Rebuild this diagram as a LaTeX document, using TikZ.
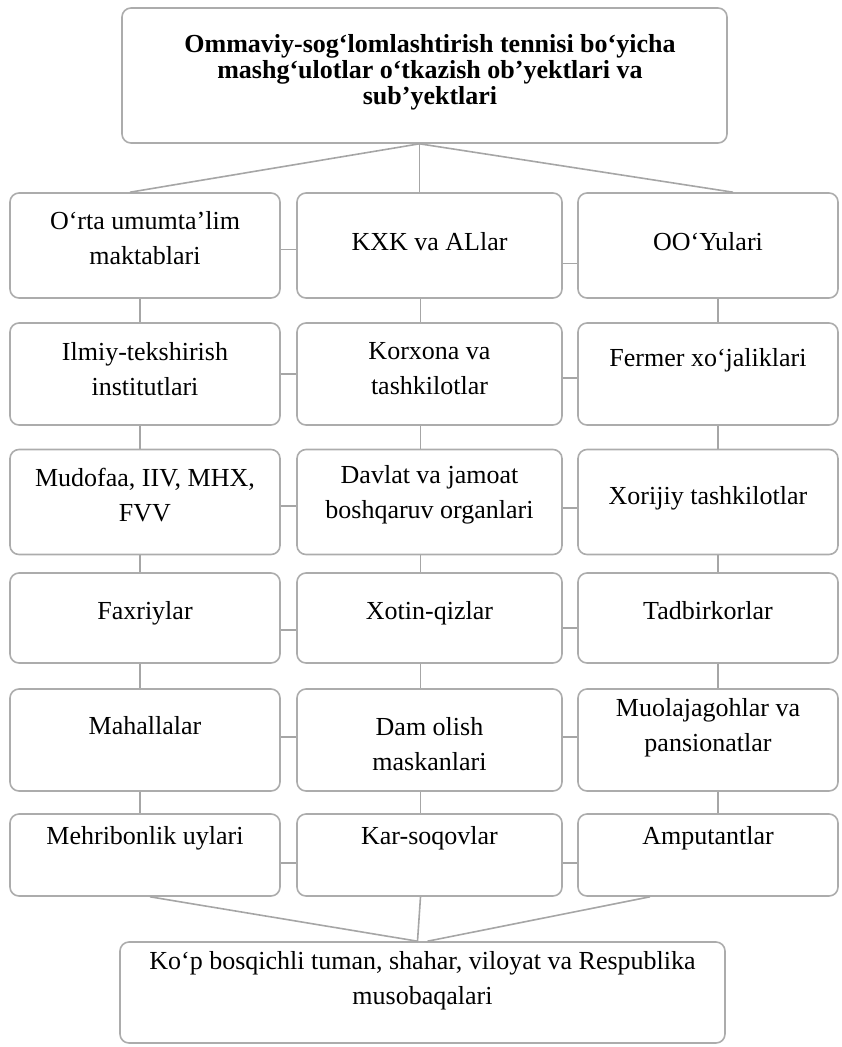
\documentclass[tikz,border=0pt]{standalone}
\usepackage{fontspec}
\setmainfont{Liberation Serif}
\usetikzlibrary{positioning}

\begin{document}
\begin{tikzpicture}[x=1pt,y=-1pt]
\tikzset{
  orgbox/.style={draw=gray!65,line width=1.6pt,rounded corners=9pt,inner sep=0pt},
  boxtext/.style={align=center,inner sep=0pt,font=\fontsize{26}{35}\selectfont},
  headtext/.style={align=center,inner sep=0pt,font=\fontsize{26}{26}\selectfont\bfseries},
  link/.style={draw=gray!70,line width=1.6pt},
  colL/.style={orgbox,minimum width=270pt},
  colM/.style={orgbox,minimum width=265pt},
  colR/.style={orgbox,minimum width=260pt}
}
\useasboundingbox (0,0) rectangle (842,1047);
% boxes
\node[orgbox,minimum width=605pt,minimum height=135pt] (n_top) at (424.5,75.5) {};
\node[colL,minimum height=105pt] (n_L1) at (145,245.5) {};
\node[colM,minimum height=105pt] (n_M1) at (429.5,245.5) {};
\node[colR,minimum height=105pt] (n_R1) at (708,245.5) {};
\node[colL,minimum height=102pt] (n_L2) at (145,374) {};
\node[colM,minimum height=102pt] (n_M2) at (429.5,374) {};
\node[colR,minimum height=102pt] (n_R2) at (708,374) {};
\node[colL,minimum height=105pt] (n_L3) at (145,502) {};
\node[colM,minimum height=105pt] (n_M3) at (429.5,502) {};
\node[colR,minimum height=105pt] (n_R3) at (708,502) {};
\node[colL,minimum height=90pt] (n_L4) at (145,618) {};
\node[colM,minimum height=90pt] (n_M4) at (429.5,618) {};
\node[colR,minimum height=90pt] (n_R4) at (708,618) {};
\node[colL,minimum height=102pt] (n_L5) at (145,740) {};
\node[colM,minimum height=102pt] (n_M5) at (429.5,740) {};
\node[colR,minimum height=102pt] (n_R5) at (708,740) {};
\node[colL,minimum height=82pt] (n_L6) at (145,855) {};
\node[colM,minimum height=82pt] (n_M6) at (429.5,855) {};
\node[colR,minimum height=82pt] (n_R6) at (708,855) {};
\node[orgbox,minimum width=605pt,minimum height=101pt] (n_bot) at (422.5,992.5) {};
% texts
\node[headtext] (t_top) at (430,72) {Ommaviy-sog‘lomlashtirish tennisi bo‘yicha\\mashg‘ulotlar o‘tkazish ob’yektlari va\\sub’yektlari};
\node[boxtext] (t_L1) at (145,238) {O‘rta umumta’lim\\maktablari};
\node[boxtext] (t_M1) at (429.5,242) {KXK va ALlar};
\node[boxtext] (t_R1) at (708,242) {OO‘Yulari};
\node[boxtext] (t_L2) at (145,369) {Ilmiy-tekshirish\\institutlari};
\node[boxtext] (t_M2) at (429.5,369) {Korxona va\\tashkilotlar};
\node[boxtext] (t_R2) at (708,360) {Fermer xo‘jaliklari};
\node[boxtext] (t_L3) at (145,495) {Mudofaa, IIV, MHX,\\FVV};
\node[boxtext] (t_M3) at (429.5,495) {Davlat va jamoat\\boshqaruv organlari};
\node[boxtext] (t_R3) at (708,498) {Xorijiy tashkilotlar};
\node[boxtext] (t_L4) at (145,613) {Faxriylar};
\node[boxtext] (t_M4) at (429.5,613) {Xotin-qizlar};
\node[boxtext] (t_R4) at (708,611) {Tadbirkorlar};
\node[boxtext] (t_L5) at (145,726) {Mahallalar};
\node[boxtext] (t_M5) at (429.5,744) {Dam olish\\maskanlari};
\node[boxtext] (t_R5) at (708,728) {Muolajagohlar va\\pansionatlar};
\node[boxtext] (t_L6) at (145,838) {Mehribonlik uylari};
\node[boxtext] (t_M6) at (429.5,838) {Kar-soqovlar};
\node[boxtext] (t_R6) at (708,838) {Amputantlar};
\node[boxtext] (t_bot) at (422.5,981) {Ko‘p bosqichli tuman, shahar, viloyat va Respublika\\musobaqalari};
% top fan
\draw[link] ([xshift=-5pt]n_top.south) -- ([xshift=-10pt]n_M1.north);
\draw[link] ([xshift=-5pt]n_top.south) -- ([xshift=-15pt]n_L1.north);
\draw[link] ([xshift=-5pt]n_top.south) -- ([xshift=25pt]n_R1.north);
% columns
\foreach \r/\s in {1/2,2/3,3/4,4/5,5/6}{
  \draw[link] ([xshift=-5pt]n_L\r.south) -- ([xshift=-5pt]n_L\s.north);
  \draw[link] ([xshift=-9pt]n_M\r.south) -- ([xshift=-9pt]n_M\s.north);
  \draw[link] ([xshift=10pt]n_R\r.south) -- ([xshift=10pt]n_R\s.north);
}
% rows
\foreach \r/\a/\b in {1/4/18,2/0/4,3/4/6,4/12/10,5/-3/-3,6/8/8}{
  \draw[link] ([yshift=-\a pt]n_L\r.east) -- ([yshift=-\a pt]n_M\r.west);
  \draw[link] ([yshift=-\b pt]n_M\r.east) -- ([yshift=-\b pt]n_R\r.west);
}
% bottom fan
\draw[link] ([xshift=5pt]n_L6.south) -- ([xshift=-5pt]n_bot.north);
\draw[link] ([xshift=-9pt]n_M6.south) -- ([xshift=-5pt]n_bot.north);
\draw[link] ([xshift=-58pt]n_R6.south) -- ([xshift=5pt]n_bot.north);
\end{tikzpicture}
\end{document}
